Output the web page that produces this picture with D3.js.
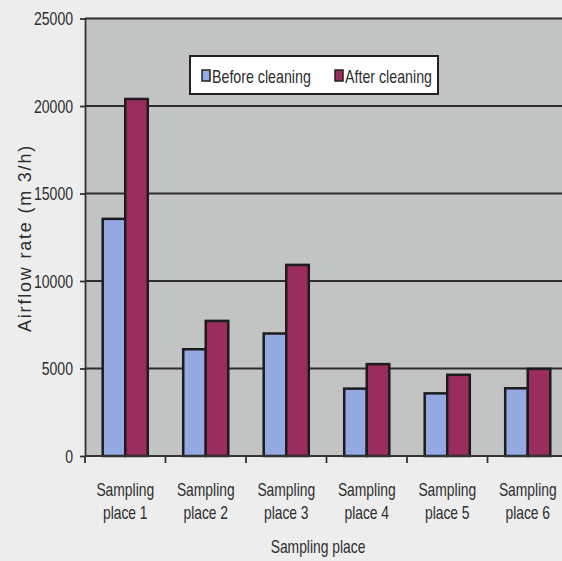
<!DOCTYPE html>
<meta charset="utf-8">
<html>
    <head>
        <style>
            html, body {
                margin: 0;
                padding: 0;
                background: #ededed;
            }
            svg text {
                font-family: "Liberation Sans", Arial, sans-serif;
                fill: #2e2e2e;
            }
        </style>
    </head>
    <body>
        <svg width="562" height="561"></svg>

        <script src="https://cdnjs.cloudflare.com/ajax/libs/d3/7.8.5/d3.min.js"></script>
        <script>
            var places = ['Sampling place 1', 'Sampling place 2', 'Sampling place 3',
                          'Sampling place 4', 'Sampling place 5', 'Sampling place 6'];
            var seriesNames = ['Before cleaning', 'After cleaning'];
            var beforeCleaning = [13550, 6100, 7000, 3850, 3580, 3870];
            var afterCleaning = [20400, 7720, 10920, 5250, 4640, 4980];
            var yTicks = [0, 5000, 10000, 15000, 20000, 25000];
            var colors = ['#94a9e1', '#9a2d5e'];

            // the original uses a condensed face; squeeze the regular one
            var squeeze = 0.77;

            var svg = d3.select('svg');

            var margin = {left: 85, top: 18.5, right: -6, bottom: 105};
            var width = 562 - margin.left - margin.right,
                height = 561 - margin.top - margin.bottom;

            var g = svg.append('g')
                .attr('transform', 'translate(' + margin.left + ',' + margin.top + ')');

            var x = d3.scaleBand()
                .domain(places)
                .range([0, width])
                .paddingInner(0)
                .paddingOuter(0);

            var x1 = d3.scaleBand()
                .domain(seriesNames)
                .range([x.bandwidth() * 0.22, x.bandwidth() * 0.78]);

            var y = d3.scaleLinear()
                .domain([0, 25000])
                .range([height, 0]);

            // plot background
            g.append('rect')
                .attr('width', width)
                .attr('height', height)
                .attr('fill', '#c2c3c3');

            // gridlines
            g.append('g')
                .selectAll('line')
                .data(yTicks.slice(1))
                .enter()
                    .append('line')
                    .attr('x1', 0)
                    .attr('x2', width)
                    .attr('y1', function (d) { return y(d); })
                    .attr('y2', function (d) { return y(d); })
                    .attr('stroke', '#2e2e2e')
                    .attr('stroke-width', 1.8);

            // bars
            var groups = g.append('g')
                .selectAll('g')
                .data(places)
                .enter()
                    .append('g')
                    .attr('transform', function (d) { return 'translate(' + x(d) + ',0)'; });

            groups.selectAll('rect')
                .data(function (d, i) {
                    return [
                        {name: seriesNames[0], value: beforeCleaning[i], c: colors[0]},
                        {name: seriesNames[1], value: afterCleaning[i], c: colors[1]}
                    ];
                })
                .enter()
                    .append('rect')
                    .attr('x', function (d) { return x1(d.name); })
                    .attr('y', function (d) { return y(d.value); })
                    .attr('width', x1.bandwidth())
                    .attr('height', function (d) { return height - y(d.value); })
                    .attr('fill', function (d) { return d.c; })
                    .attr('stroke', '#1c1c1c')
                    .attr('stroke-width', 2.5);

            // y axis
            var yAxis = g.append('g')
                .call(d3.axisLeft(y).tickValues(yTicks).tickFormat(d3.format('d'))
                    .tickSize(5).tickSizeOuter(0).tickPadding(7));
            yAxis.select('.domain').attr('stroke', '#333').attr('stroke-width', 1.8);
            yAxis.selectAll('.tick line').attr('stroke', '#333').attr('stroke-width', 1.8);
            yAxis.selectAll('.tick text')
                .style('font-size', '19px')
                .attr('x', -12 / 0.74)
                .attr('transform', 'scale(0.74,1)')
                .attr('fill', '#383838');

            // x axis
            var xAxisG = g.append('g')
                .attr('transform', 'translate(0,' + height + ')');
            xAxisG.append('line')
                .attr('x1', 0)
                .attr('x2', width)
                .attr('stroke', '#333')
                .attr('stroke-width', 1.8);
            xAxisG.selectAll('.xtick')
                .data(places)
                .enter()
                    .append('line')
                    .attr('class', 'xtick')
                    .attr('x1', function (d) { return x(d); })
                    .attr('x2', function (d) { return x(d); })
                    .attr('y1', 0)
                    .attr('y2', 7)
                    .attr('stroke', '#333')
                    .attr('stroke-width', 1.8);

            var labels = xAxisG.selectAll('.xlabel')
                .data(places)
                .enter()
                    .append('text')
                    .attr('class', 'xlabel')
                    .attr('text-anchor', 'middle')
                    .style('font-size', '18px')
                    .attr('transform', function (d) {
                        return 'translate(' + (x(d) + x.bandwidth() / 2) + ',0) scale(' + squeeze + ',1)';
                    });
            labels.append('tspan')
                .attr('x', 0)
                .attr('y', 40)
                .text('Sampling');
            labels.append('tspan')
                .attr('x', 0)
                .attr('y', 63)
                .text(function (d) { return d.replace('Sampling ', ''); });

            // axis titles
            svg.append('text')
                .attr('transform', 'translate(318,553) scale(' + squeeze + ',1)')
                .attr('text-anchor', 'middle')
                .style('font-size', '18px')
                .text('Sampling place');

            svg.append('text')
                .attr('transform', 'translate(31,238) rotate(-90)')
                .attr('text-anchor', 'middle')
                .style('font-size', '18px')
                .style('letter-spacing', '1.8px')
                .attr('fill', '#3a3a3a')
                .text('Airflow rate (m 3/h)');

            // legend
            var legend = svg.append('g')
                .attr('transform', 'translate(190,56)');
            legend.append('rect')
                .attr('width', 248)
                .attr('height', 38)
                .attr('fill', '#ffffff')
                .attr('stroke', '#222')
                .attr('stroke-width', 2);

            var items = legend.selectAll('.item')
                .data(seriesNames)
                .enter()
                    .append('g')
                    .attr('class', 'item')
                    .attr('transform', function (d, i) {
                        return 'translate(' + (12 + i * 133) + ',20)';
                    });
            items.append('rect')
                .attr('x', 0)
                .attr('y', -6)
                .attr('width', 8)
                .attr('height', 11)
                .attr('fill', function (d, i) { return colors[i]; })
                .attr('stroke', '#222')
                .attr('stroke-width', 1.5);
            items.append('text')
                .attr('transform', 'translate(10,7) scale(0.79,1)')
                .style('font-size', '18px')
                .text(function (d) { return d; });
        </script>
    </body>
</html>
